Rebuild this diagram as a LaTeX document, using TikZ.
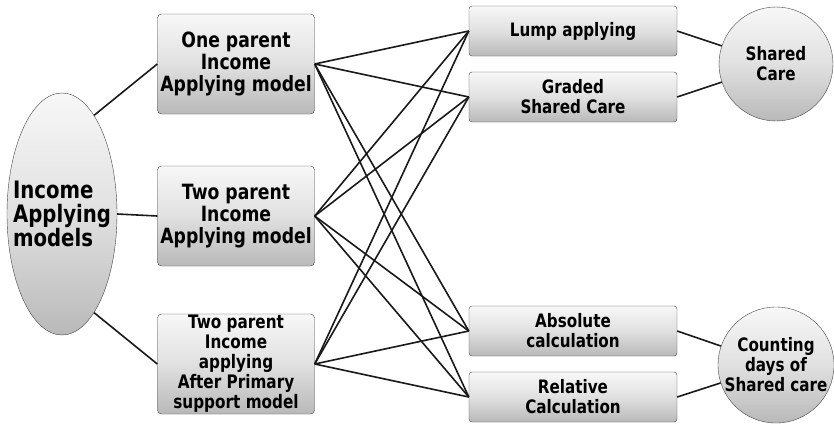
\documentclass[tikz,border=0pt]{standalone}
\usepackage{fontspec}
\setmainfont{DejaVu Sans}[FakeStretch=0.82]
\usepackage{tikz}
\usetikzlibrary{
    shapes.geometric
}
\tikzstyle{greyfill} = [
    top color=gray!6,
    bottom color=gray!55,
    middle color=gray!24
]
\tikzstyle{model} = [
    rectangle,
    rounded corners=4pt,
    draw=gray!55!black,
    greyfill,
    minimum width=157pt,
    minimum height=100pt,
    inner sep=0pt,
    align=center,
    font=\bfseries\fontsize{21}{22}\selectfont
]
\tikzstyle{method} = [
    rectangle,
    rounded corners=3pt,
    draw=gray!55!black,
    greyfill,
    minimum width=208pt,
    minimum height=50pt,
    inner sep=0pt,
    align=center,
    font=\bfseries\fontsize{18.5}{20}\selectfont
]
\tikzstyle{topic} = [
    circle,
    draw=gray!55!black,
    greyfill,
    minimum size=114pt,
    inner sep=0pt,
    align=center,
    font=\bfseries\fontsize{18.5}{20}\selectfont
]
\tikzstyle{link} = [
    line width=1.6pt,
    draw=black!90
]

\begin{document}
\begin{tikzpicture}[x=1pt, y=-1pt]
    \useasboundingbox (0,0) rectangle (834,423);

    % Root
    \node[ellipse, draw=gray!55!black, greyfill, minimum width=110pt,
          minimum height=242pt, inner xsep=-14pt, inner ysep=0pt, align=left,
          font=\bfseries\fontsize{24}{24}\selectfont]
          (apply) at (62,214) {Income\\Applying\\models};

    % Models
    \node[model] (one) at (236,64) {One parent\\Income\\Applying model};
    \node[model] (two) at (236,216) {Two parent\\Income\\Applying model};
    \node[model, font=\bfseries\fontsize{18.6}{20}\selectfont]
          (after) at (236,364) {Two parent\\Income\\applying\\After Primary\\support model};

    % Methods
    \node[method] (lump) at (573,31) {Lump applying};
    \node[method] (graded) at (573,97) {Graded\\Shared Care};
    \node[method] (abs) at (573,331) {Absolute\\calculation};
    \node[method] (rel) at (573,397) {Relative\\Calculation};

    % Topics
    \node[topic] (shared) at (776,64) {Shared\\Care};
    \node[topic] (count) at (776,365) {Counting\\days of\\Shared care};

    % Links
    \draw[link] (apply.72) -- (one.west);
    \draw[link] (apply.east) -- (two.west);
    \draw[link] (apply.-72) -- (after.west);
    \foreach \s in {one,two,after}
        \foreach \t in {lump,graded,abs,rel}
            \draw[link] (\s.east) -- (\t.west);
    \draw[link] (lump.east) -- (shared);
    \draw[link] (graded.east) -- (shared);
    \draw[link] (abs.east) -- (count);
    \draw[link] (rel.east) -- (count);
\end{tikzpicture}
\end{document}
